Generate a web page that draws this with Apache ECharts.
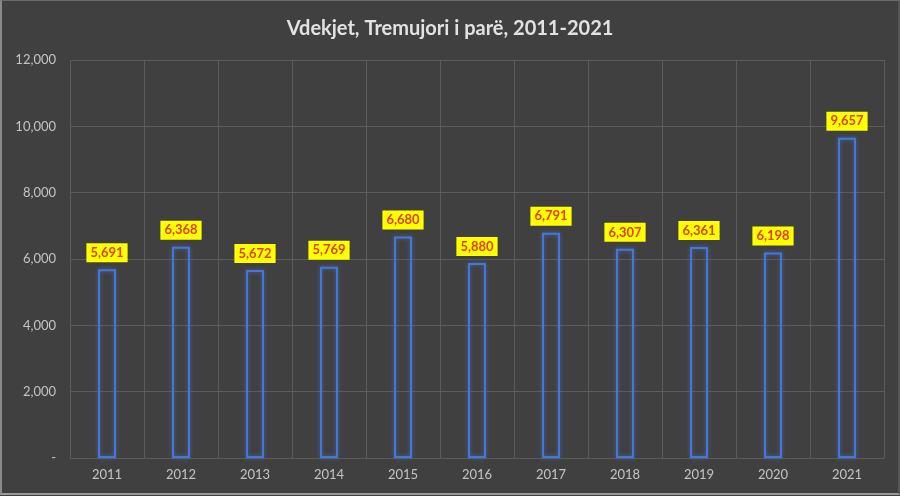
<!DOCTYPE html>
<html>
<head>
<meta charset="utf-8">
<script src="https://cdn.jsdelivr.net/npm/echarts@6/dist/echarts.min.js"></script>
<style>
  html, body { margin: 0; padding: 0; background: #404040; }
  #chart { width: 896px; height: 492px; border-left: 2px solid #8a8a8a; border-top: 1px solid #6a6a6a; border-bottom: 2px solid #9a9a9a; border-right: 2px solid #555; }
</style>
</head>
<body>
<div id="chart"></div>
<script>
// data
const years = ["2011", "2012", "2013", "2014", "2015", "2016", "2017", "2018", "2019", "2020", "2021"];
const deaths = [5691, 6368, 5672, 5769, 6680, 5880, 6791, 6307, 6361, 6198, 9657];
const yTicks = [0, 2000, 4000, 6000, 8000, 10000, 12000];

const chart = echarts.init(document.getElementById("chart"));

const option = {
  backgroundColor: "#404040",
  title: {
    text: "Vdekjet, Tremujori i parë, 2011-2021",
    left: "center",
    top: 13,
    textStyle: { color: "#e2e2e2", fontSize: 20, fontWeight: "bold", fontFamily: "Lato" }
  },
  grid: { left: 68, right: 14, top: 59, bottom: 35 },
  xAxis: {
    type: "category",
    data: years,
    axisLine: { show: false },
    axisTick: { show: false },
    splitLine: { show: true, lineStyle: { color: "#5c5c5c", width: 1 } },
    axisLabel: { color: "#c4c4c4", fontSize: 13, fontFamily: "Lato", margin: 10 }
  },
  yAxis: {
    type: "value",
    min: yTicks[0],
    max: yTicks[yTicks.length - 1],
    interval: 2000,
    axisLine: { show: false },
    axisTick: { show: false },
    splitLine: { lineStyle: { color: "#5c5c5c", width: 1 } },
    axisLabel: {
      color: "#c4c4c4",
      fontSize: 13,
      fontFamily: "Lato",
      margin: 14,
      formatter: function (v) {
        return v === 0 ? "-" : v.toLocaleString("en-US");
      }
    }
  },
  series: [
    {
      type: "bar",
      data: deaths,
      barWidth: 18,
      itemStyle: {
        color: "rgba(0,0,0,0)",
        borderColor: "#4677d6",
        borderWidth: 2,
        shadowColor: "rgba(70,120,220,0.7)",
        shadowBlur: 4
      },
      label: {
        show: true,
        position: "top",
        distance: 7,
        formatter: function (p) {
          return p.value.toLocaleString("en-US");
        },
        color: "#e0400c",
        fontWeight: "bold",
        fontSize: 13,
        fontFamily: "Lato",
        backgroundColor: "#ffff00",
        padding: [3, 4, 3, 4]
      }
    }
  ]
};

chart.setOption(option);
</script>
</body>
</html>
